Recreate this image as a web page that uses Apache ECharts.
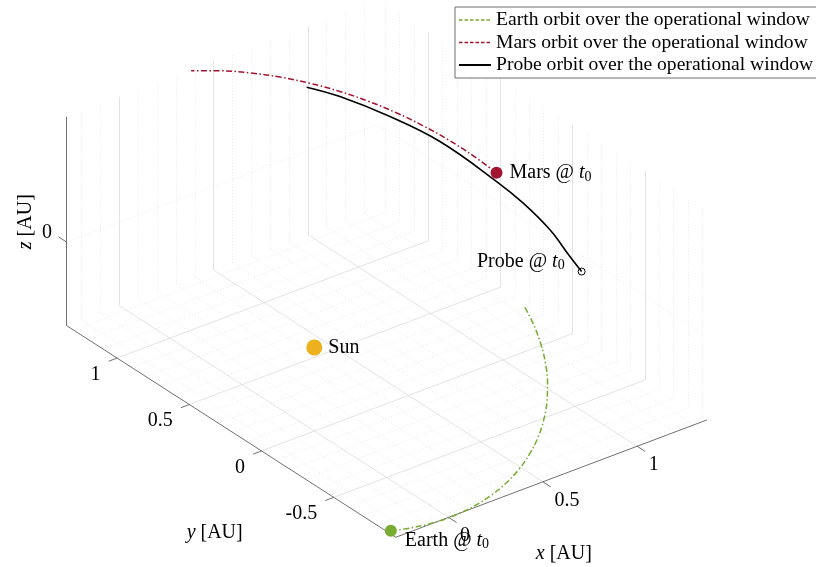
<!DOCTYPE html>
<html><head><meta charset="utf-8">
<script src="https://cdn.jsdelivr.net/npm/echarts@6/dist/echarts.min.js"></script>
<style>html,body{margin:0;padding:0;background:#fff}#c{width:816px;height:567px}</style>
</head><body><div id="c"></div>
<script>
// ---------- data (AU, equatorial frame) ----------
const earthX = [-0.2796,-0.1763,-0.0709,0.0355,0.1415,0.2459,0.3477,0.4455,0.5383,0.6250,0.7046,0.7762,0.8391,0.8926,0.9361,0.9691,0.9912];
const earthY = [-0.8949,-0.9175,-0.9300,-0.9320,-0.9237,-0.9051,-0.8765,-0.8381,-0.7903,-0.7339,-0.6694,-0.5976,-0.5193,-0.4355,-0.3470,-0.2549,-0.1603];
const earthZ = [-0.3880,-0.3978,-0.4032,-0.4041,-0.4005,-0.3924,-0.3800,-0.3634,-0.3427,-0.3182,-0.2902,-0.2591,-0.2252,-0.1888,-0.1504,-0.1105,-0.0695];

const marsX = [1.3250,1.2824,1.2302,1.1685,1.0976,1.0175,0.9291,0.8324,0.7281,0.6167,0.4989,0.3756];
const marsY = [0.4682,0.5737,0.6760,0.7748,0.8690,0.9581,1.0411,1.1175,1.1867,1.2478,1.3003,1.3435];
const marsZ = [0.1789,0.2285,0.2769,0.3238,0.3689,0.4119,0.4524,0.4901,0.5246,0.5556,0.5829,0.6061];

const probeX = [1.3374,1.3381,1.3428,1.3200,1.2812,1.1789,1.0555,0.9159,0.8103];
const probeY = [-0.1050,-0.0230,0.1215,0.2766,0.4102,0.6692,0.8543,1.0181,1.1108];
const probeZ = [-0.0455,-0.0100,0.0527,0.1199,0.1779,0.2902,0.3704,0.4414,0.4816];

const sunPos = [0, 0, 0];

const seriesNames = ['Earth orbit over the operational window','Mars orbit over the operational window','Probe orbit over the operational window'];

const xLim = [-0.28, 1.37], yLim = [-0.93, 1.35], zLim = [-0.404, 0.606];
const xTicks = [0, 0.5, 1], yTicks = [-0.5, 0, 0.5, 1], zTicks = [0];
const xTickLabels = ['0', '0.5', '1'], yTickLabels = ['-0.5', '0', '0.5', '1'], zTickLabels = ['0'];
const minorStep = 0.1;

// ---------- view ----------
const VIEW = { az: 37.45, el: 29.5 };
const WIN = { hMin: -1.3234, hMax: 2.1124, vMin: -0.9242, vMax: 1.4632 };
const FONT = 'Liberation Serif';

function P(x, y, z) {
  const a = VIEW.az * Math.PI / 180, e = VIEW.el * Math.PI / 180;
  const h = x * Math.cos(a) - y * Math.sin(a);
  const v = (x * Math.sin(a) + y * Math.cos(a)) * Math.sin(e) + z * Math.cos(e);
  return [h, v];
}
function curve(X, Y, Z) { return X.map((x, i) => P(x, Y[i], Z[i])); }
function minorVals(lim, majors) {
  const out = [];
  for (let k = Math.ceil(lim[0] / minorStep - 1e-9); k <= Math.floor(lim[1] / minorStep + 1e-9); k++) {
    const v = Math.round(k * minorStep * 1000) / 1000;
    if (!majors.some(m => Math.abs(m - v) < 1e-6)) out.push(v);
  }
  return out;
}
const [x0, x1] = xLim, [y0, y1] = yLim, [z0, z1] = zLim;
function seg(a, b) { return { coords: [P(...a), P(...b)] }; }

const xMinor = minorVals(xLim, xTicks), yMinor = minorVals(yLim, yTicks);
function gridSegs(xs, ys, zs) {
  const s = [];
  xs.forEach(x => { s.push(seg([x, y0, z0], [x, y1, z0])); s.push(seg([x, y1, z0], [x, y1, z1])); });
  ys.forEach(y => { s.push(seg([x0, y, z0], [x1, y, z0])); s.push(seg([x1, y, z0], [x1, y, z1])); });
  zs.forEach(z => { s.push(seg([x0, y1, z], [x1, y1, z])); s.push(seg([x1, y0, z], [x1, y1, z])); });
  return s;
}
const majorSegs = gridSegs(xTicks, yTicks, []);
const minorSegs = gridSegs(xMinor, yMinor, zTicks);

const axisSegs = [
  seg([x0, y0, z0], [x1, y0, z0]),
  seg([x0, y0, z0], [x0, y1, z0]),
  seg([x0, y1, z0], [x0, y1, z1])
];
xTicks.forEach(x => axisSegs.push(seg([x, y0, z0], [x, y0 - 0.055, z0])));
yTicks.forEach(y => axisSegs.push(seg([x0, y, z0], [x0 - 0.045, y, z0])));
zTicks.forEach(z => axisSegs.push(seg([x0, y1, z], [x0, y1 + 0.055, z])));

function textPoint(pt, text, pos, align, vAlign, extra) {
  return {
    type: 'scatter', silent: true, symbol: 'circle', symbolSize: 1, z: 6,
    itemStyle: { color: 'rgba(0,0,0,0)', opacity: 1 },
    data: [pt],
    label: Object.assign({
      show: true, formatter: text, position: pos, align: align, verticalAlign: vAlign,
      fontFamily: FONT, fontSize: 20, color: '#000', opacity: 1,
      rich: {
        i: { fontFamily: FONT, fontSize: 20, fontStyle: 'italic', color: '#000' },
        n: { fontFamily: FONT, fontSize: 20, color: '#000' }
      }
    }, extra || {})
  };
}

const tickLabelSeries = [];
xTicks.forEach((x, i) => tickLabelSeries.push(textPoint(P(x, y0, z0), xTickLabels[i], [12, 19], 'left', 'middle')));
yTicks.forEach((y, i) => tickLabelSeries.push(textPoint(P(x0, y, z0), yTickLabels[i], [-16, 17], 'right', 'middle')));
zTicks.forEach((z, i) => tickLabelSeries.push(textPoint(P(x0, y1, z), zTickLabels[i], [-14, -9], 'right', 'middle')));
tickLabelSeries.push(textPoint(P((x0 + x1) / 2, y0, z0), '{i|x}{n| [AU]}', [13, 76], 'center', 'middle'));
tickLabelSeries.push(textPoint(P(x0, (y0 + y1) / 2, z0), '{i|y}{n| [AU]}', [-16, 102], 'center', 'middle'));
tickLabelSeries.push(textPoint(P(x0, y1, (z0 + z1) / 2), '{i|z}{n| [AU]}', [-40, 1], 'center', 'middle', { rotate: 90 }));

const annRich = {
  n: { fontFamily: FONT, fontSize: 20, color: '#000', lineHeight: 22 },
  i: { fontFamily: FONT, fontSize: 20, fontStyle: 'italic', color: '#000', lineHeight: 22 },
  s: { fontFamily: FONT, fontSize: 14, color: '#000', lineHeight: 14, verticalAlign: 'bottom' }
};
function marker(pt, size, style, labelOpt) {
  return {
    type: 'scatter', silent: true, z: 5, symbol: 'circle', symbolSize: size,
    itemStyle: Object.assign({ opacity: 1 }, style), data: [pt],
    label: Object.assign({ show: true, fontFamily: FONT, fontSize: 20, color: '#000', opacity: 1, rich: annRich }, labelOpt)
  };
}

const noSym = { color: 'rgba(0,0,0,0)', borderWidth: 0, opacity: 0 };
const option = {
  backgroundColor: '#fff',
  animation: false,
  grid: { left: 0, top: 0, width: 816, height: 567, containLabel: false },
  xAxis: { type: 'value', min: WIN.hMin, max: WIN.hMax, show: false },
  yAxis: { type: 'value', min: WIN.vMin, max: WIN.vMax, show: false },
  legend: {
    left: 455, top: 7, orient: 'vertical', itemWidth: 32, itemHeight: 14, itemGap: 2.5,
    padding: [3, 10, 3, 3], backgroundColor: '#fff', borderColor: '#6e6e6e', borderWidth: 1,
    textStyle: { fontFamily: FONT, fontSize: 19.6, color: '#000', lineHeight: 20 },
    data: [
      { name: seriesNames[0], itemStyle: noSym, lineStyle: { type: [3.5, 2], width: 1.3, color: '#77AC30' } },
      { name: seriesNames[1], itemStyle: noSym, lineStyle: { type: [3.5, 2], width: 1.3, color: '#A2142F' } },
      { name: seriesNames[2], itemStyle: noSym, lineStyle: { type: 'solid', width: 2, color: '#000' } }
    ]
  },
  series: [
    { type: 'lines', coordinateSystem: 'cartesian2d', silent: true, z: 1,
      lineStyle: { color: '#e3e3e3', width: 0.7, type: [1, 2], opacity: 1 }, data: minorSegs },
    { type: 'lines', coordinateSystem: 'cartesian2d', silent: true, z: 1,
      lineStyle: { color: '#dcdcdc', width: 0.8, type: 'solid', opacity: 1 }, data: majorSegs },
    { type: 'lines', coordinateSystem: 'cartesian2d', silent: true, z: 2,
      lineStyle: { color: '#4d4d4d', width: 0.8, type: 'solid', opacity: 1 }, data: axisSegs },
    { name: seriesNames[0], type: 'line', data: curve(earthX, earthY, earthZ), smooth: 0.4, symbol: 'none', showSymbol: false, z: 3,
      itemStyle: { color: '#77AC30' }, lineStyle: { color: '#77AC30', width: 1.5, type: [6, 2.5, 1.5, 2.5] } },
    { name: seriesNames[1], type: 'line', data: curve(marsX, marsY, marsZ), smooth: 0.4, symbol: 'none', showSymbol: false, z: 3,
      itemStyle: { color: '#A2142F' }, lineStyle: { color: '#A2142F', width: 1.5, type: [6, 2.5, 1.5, 2.5] } },
    { name: seriesNames[2], type: 'line', data: curve(probeX, probeY, probeZ), smooth: 0.4, symbol: 'none', showSymbol: false, z: 3,
      itemStyle: { color: '#000' }, lineStyle: { color: '#000', width: 1.6, type: 'solid' } },
    marker(P(...sunPos), 16, { color: '#EDB120' }, { position: 'right', distance: 6, verticalAlign: 'middle', formatter: '{n|Sun}' }),
    marker(P(earthX[0], earthY[0], earthZ[0]), 12, { color: '#77AC30' },
      { position: [20, 16], align: 'left', verticalAlign: 'middle', formatter: '{n|Earth @ }{i|t}{s|0}' }),
    marker(P(marsX[0], marsY[0], marsZ[0]), 12, { color: '#A2142F' },
      { position: 'right', distance: 7, verticalAlign: 'middle', formatter: '{n|Mars @ }{i|t}{s|0}' }),
    marker(P(probeX[0], probeY[0], probeZ[0]), 7, { color: 'rgba(255,255,255,0)', borderColor: '#000', borderWidth: 1 },
      { position: [-13, -6], align: 'right', verticalAlign: 'middle', formatter: '{n|Probe @ }{i|t}{s|0}' })
  ].concat(tickLabelSeries)
};
const chart = echarts.init(document.getElementById('c'), null, { renderer: 'canvas' });
chart.setOption(option);
</script></body></html>
